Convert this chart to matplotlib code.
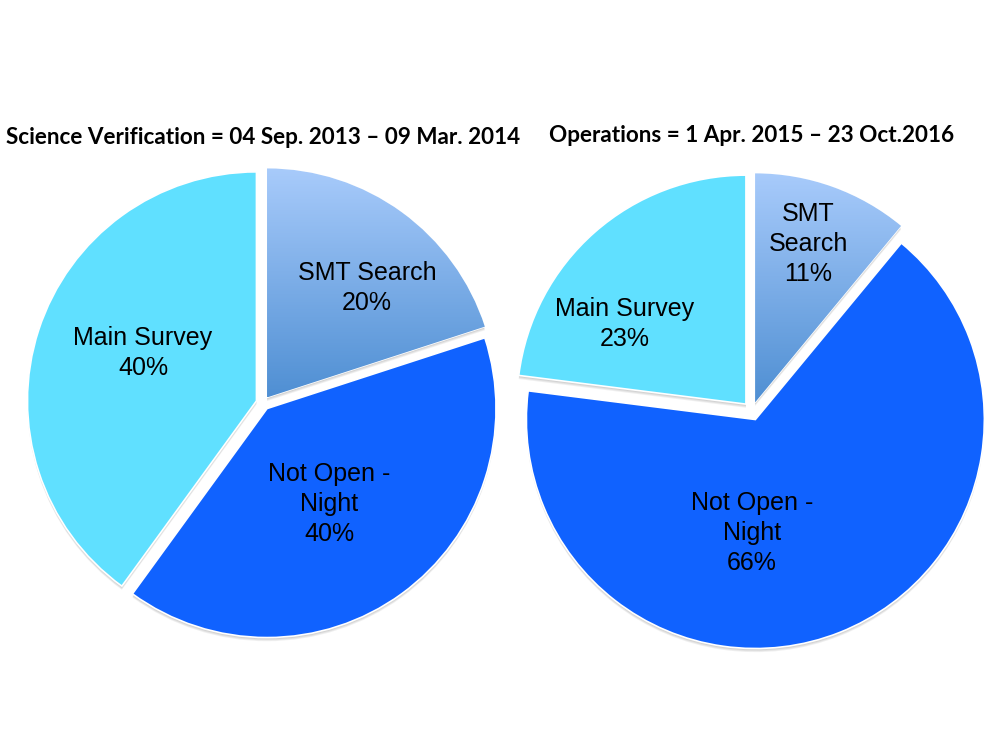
import matplotlib
matplotlib.use("Agg")
import matplotlib.pyplot as plt
import numpy as np
from matplotlib.patches import Wedge
from matplotlib.colors import LinearSegmentedColormap

# ---- data ----
titles = ["Science Verification = 04 Sep. 2013 \u2013 09 Mar. 2014",
          "Operations = 1 Apr. 2015 \u2013 23 Oct.2016"]
categories = ["SMT Search", "Not Open - Night", "Main Survey"]
sv_values = [20, 40, 40]
ops_values = [11, 66, 23]
sv_labels = ["SMT Search\n20%", "Not Open -\nNight\n40%", "Main Survey\n40%"]
ops_labels = ["SMT\nSearch\n11%", "Not Open -\nNight\n66%", "Main Survey\n23%"]

# ---- style / layout ----
col_main = "#60E0FF"
col_night = "#1062FF"
smt_top, smt_bot = "#A8CBFB", "#4F8FD3"
R_PX = 229
fig = plt.figure(figsize=(10, 7.5), dpi=100)
fig.patch.set_facecolor("white")

panels = [
    dict(values=sv_values, labels=sv_labels, title=titles[0], cx=263, cy=403,
         explode=0.03, title_y=138,
         lpos=[(0.454, 0.502), (0.288, -0.441), (-0.524, 0.218)]),
    dict(values=ops_values, labels=ops_labels, title=titles[1], cx=752, cy=411,
         explode=0.04, title_y=136,
         lpos=[(0.245, 0.729), (0.0, -0.533), (-0.555, 0.380)]),
]

cmap = LinearSegmentedColormap.from_list("smt", [smt_bot, smt_top])
L = 1.2
for p in panels:
    w = 2 * L * R_PX / 1000
    h = 2 * L * R_PX / 750
    ax = fig.add_axes([p["cx"] / 1000 - w / 2, 1 - p["cy"] / 750 - h / 2, w, h])
    ax.set_axis_off()
    wedges, _ = ax.pie(p["values"], startangle=90, counterclock=False,
                       explode=[p["explode"]] * 3,
                       colors=[smt_bot, col_night, col_main],
                       wedgeprops=dict(edgecolor="white", linewidth=1.2))
    # soft shadow below
    for wdg in wedges:
        for off in [0.004, 0.008, 0.012, 0.016]:
            sh = Wedge((wdg.center[0], wdg.center[1] - off), wdg.r,
                       wdg.theta1, wdg.theta2, facecolor="black",
                       alpha=0.06, edgecolor="none", zorder=wdg.get_zorder() - 0.5)
            ax.add_patch(sh)
    # gradient fill for SMT wedge
    smt = wedges[0]
    bb = smt.get_path().get_extents(smt.get_patch_transform())
    grad = np.linspace(0, 1, 256).reshape(-1, 1)
    im = ax.imshow(grad, extent=(bb.x0, bb.x1, bb.y0, bb.y1), origin="lower",
                   cmap=cmap, aspect="auto", zorder=smt.get_zorder() + 0.1,
                   interpolation="bilinear")
    im.set_clip_path(smt)
    ax.set_xlim(-L, L)
    ax.set_ylim(-L, L)
    ax.set_aspect("equal")
    for (x, y), lab in zip(p["lpos"], p["labels"]):
        ax.text(x, y, lab, ha="center", va="center", fontsize=18,
                family="Liberation Sans", color="black", linespacing=1.3,
                zorder=10)
    fig.text(p["cx"] / 1000, 1 - p["title_y"] / 750, p["title"], ha="center",
             va="center", fontsize=16.2, fontweight="bold", family="Lato",
             color="black")

fig.savefig("out.png", dpi=100, facecolor="white")
